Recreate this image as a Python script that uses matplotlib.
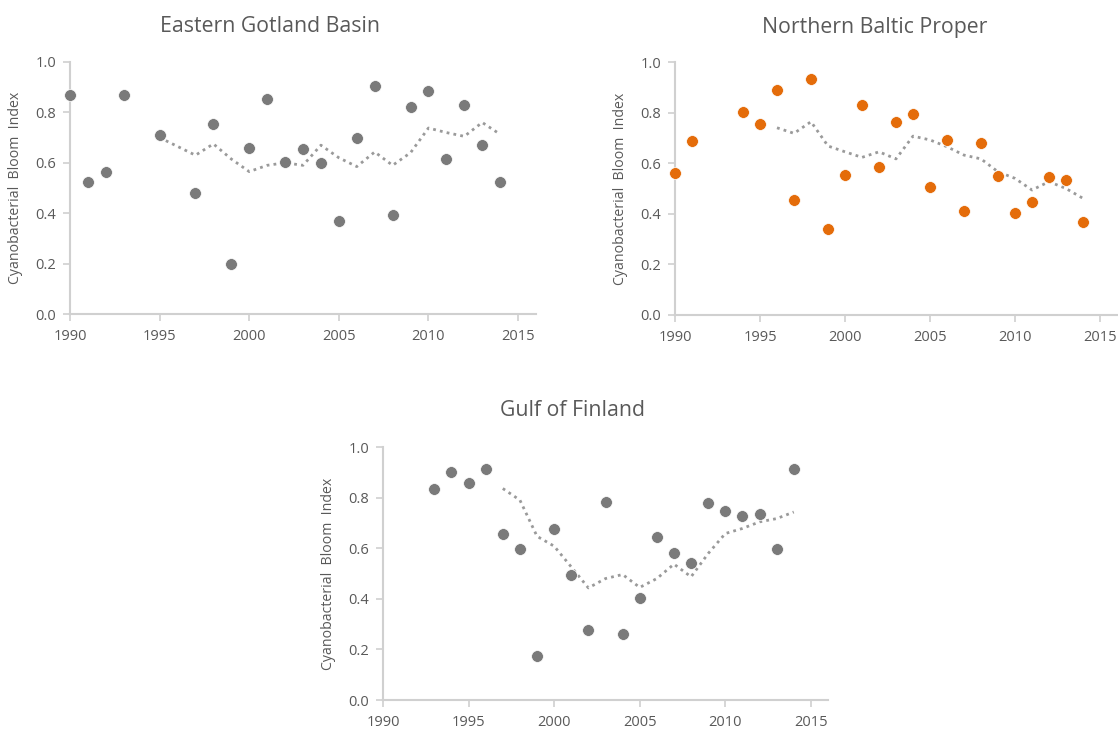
import matplotlib
matplotlib.use("Agg")
import matplotlib.pyplot as plt

plt.rcParams['font.family'] = ['Open Sans', 'DejaVu Sans']

# Eastern Gotland Basin
egb_years = [1990, 1991, 1992, 1993, 1995, 1997, 1998, 1999, 2000, 2001, 2002,
             2003, 2004, 2005, 2006, 2007, 2008, 2009, 2010, 2011, 2012, 2013, 2014]
egb_values = [0.87, 0.524, 0.564, 0.87, 0.71, 0.48, 0.754, 0.20, 0.66, 0.855, 0.605,
              0.655, 0.60, 0.37, 0.70, 0.905, 0.394, 0.82, 0.885, 0.615, 0.83, 0.67, 0.524]
egb_trend_years = list(range(1995, 2015))
egb_trend = [0.70, 0.665, 0.63, 0.675, 0.615, 0.565, 0.59, 0.60, 0.59, 0.67,
             0.62, 0.585, 0.643, 0.59, 0.64, 0.738, 0.72, 0.705, 0.76, 0.713]

# Northern Baltic Proper
nbp_years = [1990, 1991, 1994, 1995, 1996, 1997, 1998, 1999, 2000, 2001, 2002,
             2003, 2004, 2005, 2006, 2007, 2008, 2009, 2010, 2011, 2012, 2013, 2014]
nbp_values = [0.56, 0.689, 0.804, 0.755, 0.889, 0.455, 0.933, 0.34, 0.555, 0.829, 0.585,
              0.764, 0.796, 0.505, 0.69, 0.41, 0.68, 0.55, 0.404, 0.445, 0.545, 0.535, 0.369]
nbp_trend_years = list(range(1996, 2015))
nbp_trend = [0.74, 0.718, 0.764, 0.668, 0.645, 0.623, 0.645, 0.617, 0.707, 0.692,
             0.665, 0.632, 0.617, 0.566, 0.54, 0.494, 0.527, 0.50, 0.461]

# Gulf of Finland
gof_years = [1993, 1994, 1995, 1996, 1997, 1998, 1999, 2000, 2001, 2002, 2003,
             2004, 2005, 2006, 2007, 2008, 2009, 2010, 2011, 2012, 2013, 2014]
gof_values = [0.834, 0.903, 0.858, 0.912, 0.658, 0.595, 0.175, 0.674, 0.496, 0.275, 0.783,
              0.26, 0.404, 0.645, 0.583, 0.54, 0.779, 0.749, 0.728, 0.734, 0.595, 0.913]
gof_trend_years = list(range(1997, 2015))
gof_trend = [0.836, 0.79, 0.647, 0.608, 0.526, 0.443, 0.48, 0.496, 0.445, 0.48,
             0.537, 0.487, 0.579, 0.658, 0.678, 0.704, 0.717, 0.743]

x_ticks = [1990, 1995, 2000, 2005, 2010, 2015]
y_ticks = [0.0, 0.2, 0.4, 0.6, 0.8, 1.0]
y_label = "Cyanobacterial  Bloom  Index"

GRAY_DOT = "#7a7a7a"
ORANGE = "#e46c0a"
TREND = "#9a9a9a"
TEXT = "#595959"
SPINE = "#d0d0d0"

W, H = 1118, 731
fig = plt.figure(figsize=(W / 100, H / 100), dpi=100)


def px_axes(left, right, top, bottom):
    return fig.add_axes([left / W, 1 - bottom / H, (right - left) / W, (bottom - top) / H])


def style(ax):
    ax.set_xlim(1990, 2016)
    ax.set_ylim(0, 1.0)
    ax.set_xticks(x_ticks)
    ax.set_yticks(y_ticks)
    ax.set_yticklabels([f"{v:.1f}" for v in y_ticks])
    for s in ["top", "right"]:
        ax.spines[s].set_visible(False)
    for s in ["left", "bottom"]:
        ax.spines[s].set_color(SPINE)
        ax.spines[s].set_linewidth(1.5)
    ax.tick_params(axis="both", colors=SPINE, length=5, width=1.2, labelcolor=TEXT,
                   labelsize=10.5, pad=5)
    ax.tick_params(axis="x", pad=6)
    ax.set_ylabel(y_label, color=TEXT, fontsize=10.2, labelpad=9)


panels = [
    ((70, 536, 62, 314), egb_years, egb_values, egb_trend_years, egb_trend, GRAY_DOT,
     "Eastern Gotland Basin", 270, 27),
    ((675, 1117, 62, 315), nbp_years, nbp_values, nbp_trend_years, nbp_trend, ORANGE,
     "Northern Baltic Proper", 875, 27),
    ((383, 828, 447, 700), gof_years, gof_values, gof_trend_years, gof_trend, GRAY_DOT,
     "Gulf of Finland", 572, 411),
]

for (l, r, t, b), xs, ys, txs, tys, col, title, tx, ty in panels:
    ax = px_axes(l, r, t, b)
    ax.plot(txs, tys, linestyle=(0, (1, 1.5)), color=TREND, linewidth=2, zorder=2,
            clip_on=False)
    ax.plot(xs, ys, linestyle="none", marker="o", markersize=8.5, color=col,
            markeredgecolor="white", markeredgewidth=0.5, zorder=3, clip_on=False)
    style(ax)
    fig.text(tx / W, 1 - ty / H, title, ha="center", va="center", fontsize=15.3, color=TEXT)

fig.savefig("out.png", dpi=100)
